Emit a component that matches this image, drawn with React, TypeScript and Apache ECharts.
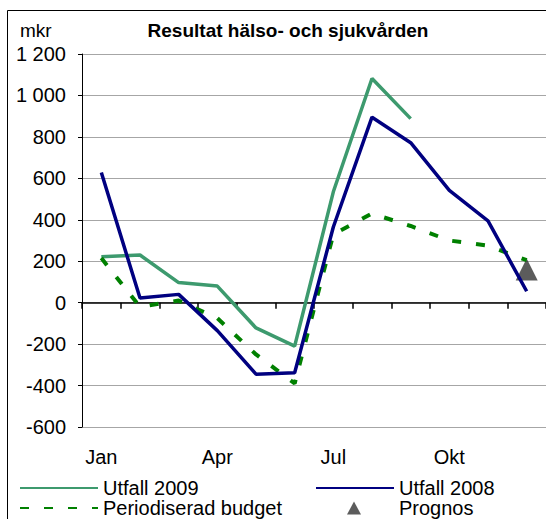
import React, { useEffect, useRef } from "react";
import * as echarts from "echarts";

const categories = ["Jan", "Feb", "Mar", "Apr", "Maj", "Jun", "Jul", "Aug", "Sep", "Okt", "Nov", "Dec"];
const utfall2009 = [222, 230, 97, 80, -122, -210, 535, 1082, 888, null, null, null];
const utfall2008 = [628, 22, 40, -135, -345, -338, 365, 895, 772, 542, 395, 55];
const budget = [215, -20, 10, -75, -250, -390, 330, 430, 370, 300, 275, 205];
const prognos = [null, null, null, null, null, null, null, null, null, null, null, 160];

const FONT = '"Liberation Sans", Arial, sans-serif';

const legendBase = {
  orient: "vertical",
  top: 478,
  height: 80,
  padding: 0,
  itemGap: 0,
  itemWidth: 78,
  itemHeight: 14,
  textStyle: { fontSize: 20, lineHeight: 20, color: "#000", fontFamily: FONT },
};

export default function App() {
  const ref = useRef<HTMLDivElement>(null);
  useEffect(() => {
    if (!ref.current) return;
    const chart = echarts.init(ref.current, null, { renderer: "svg" });
    chart.setOption({
      animation: false,
      textStyle: { fontFamily: FONT },
      graphic: [
        {
          type: "rect",
          shape: { x: 7.5, y: 10.5, width: 600, height: 600 },
          style: { fill: "none", stroke: "#000", lineWidth: 1 },
          z: 0,
        },
        {
          type: "text",
          x: 288,
          y: 30,
          style: {
            text: "Resultat hälso- och sjukvården",
            font: 'bold 19px "Liberation Sans", Arial, sans-serif',
            fill: "#000",
            textAlign: "center",
            textVerticalAlign: "middle",
          },
        },
        {
          type: "text",
          x: 20,
          y: 30,
          style: {
            text: "mkr",
            font: '19px "Liberation Sans", Arial, sans-serif',
            fill: "#000",
            textAlign: "left",
            textVerticalAlign: "middle",
          },
        },
      ],
      grid: { left: 82, top: 54, width: 469, height: 373, containLabel: false },
      legend: [
        {
          ...legendBase,
          left: 19,
          data: [
            { name: "Utfall 2009", itemStyle: { opacity: 0 } },
            { name: "Periodiserad budget", itemStyle: { opacity: 0 } },
          ],
        },
        {
          ...legendBase,
          left: 315,
          data: [{ name: "Utfall 2008", itemStyle: { opacity: 0 } }],
        },
        {
          ...legendBase,
          left: 347,
          top: 498,
          itemWidth: 14,
          itemHeight: 13,
          data: [{ name: "Prognos", icon: "triangle" }],
          textStyle: { fontSize: 20, lineHeight: 20, color: "#000", fontFamily: FONT, padding: [0, 0, 0, 33] },
        },
      ],
      xAxis: [
        {
          type: "category",
          data: categories,
          boundaryGap: true,
          position: "bottom",
          axisLine: { show: false, onZero: false },
          axisTick: { show: false },
          axisLabel: { interval: 2, margin: 20, fontSize: 20, color: "#000", fontFamily: FONT },
          splitLine: { show: false },
        },
        {
          type: "category",
          data: categories,
          boundaryGap: true,
          position: "bottom",
          axisLine: { show: true, onZero: true, lineStyle: { color: "#000", width: 1.5 } },
          axisTick: { show: true, interval: 0, length: 6, lineStyle: { color: "#000", width: 1.5 } },
          axisLabel: { show: false },
          splitLine: { show: false },
        },
      ],
      yAxis: {
        type: "value",
        min: -600,
        max: 1200,
        interval: 200,
        axisLine: { show: true, lineStyle: { color: "#000", width: 1 } },
        axisTick: { show: true, length: 4, lineStyle: { color: "#000" } },
        axisLabel: {
          margin: 16,
          fontSize: 20,
          color: "#000",
          fontFamily: FONT,
          formatter: (v: number) => String(v).replace(/\B(?=(\d{3})+(?!\d))/g, " "),
        },
        splitLine: { show: true, lineStyle: { color: "#A6A6A6", width: 1 } },
      },
      series: [
        {
          name: "Utfall 2009",
          type: "line",
          data: utfall2009,
          symbol: "none",
          z: 3,
          lineStyle: { color: "#3D9A6E", width: 3.5 },
          itemStyle: { color: "#3D9A6E" },
        },
        {
          name: "Utfall 2008",
          type: "line",
          data: utfall2008,
          symbol: "none",
          z: 4,
          lineStyle: { color: "#000080", width: 3.5 },
          itemStyle: { color: "#000080" },
        },
        {
          name: "Periodiserad budget",
          type: "line",
          data: budget,
          symbol: "none",
          z: 3,
          lineStyle: { color: "#008000", width: 4, type: [9, 15] },
          itemStyle: { color: "#008000" },
        },
        {
          name: "Prognos",
          type: "scatter",
          data: prognos,
          symbol: "triangle",
          symbolSize: 22,
          z: 2,
          itemStyle: { color: "#333333" },
        },
      ],
    });
    return () => chart.dispose();
  }, []);
  return (
    <div
      ref={ref}
      style={{ position: "absolute", left: 0, top: 0, width: 546, height: 519, background: "#fff" }}
    />
  );
}
